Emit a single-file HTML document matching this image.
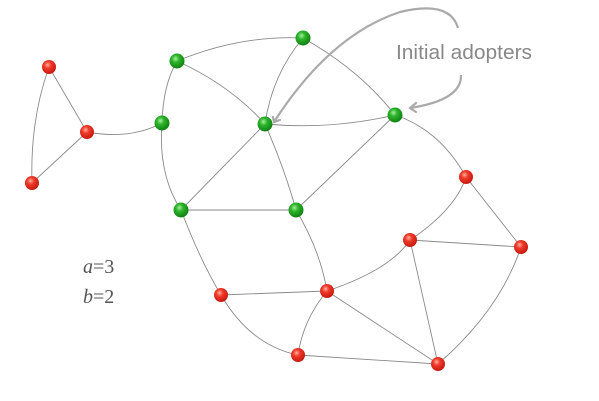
<!DOCTYPE html>
<html><head><style>
html,body{margin:0;padding:0;background:#fff;width:599px;height:401px;overflow:hidden}
</style></head><body>
<svg width="599" height="401" viewBox="0 0 599 401" xmlns="http://www.w3.org/2000/svg">
<defs>
<radialGradient id="r" cx="0.4" cy="0.35" r="0.7">
<stop offset="0" stop-color="#ffb0a0"/><stop offset="0.35" stop-color="#f03a2a"/><stop offset="1" stop-color="#c0150c"/></radialGradient>
<radialGradient id="g" cx="0.4" cy="0.35" r="0.7">
<stop offset="0" stop-color="#a8f0a0"/><stop offset="0.35" stop-color="#2db42a"/><stop offset="1" stop-color="#0c7a10"/></radialGradient>
</defs>
<g fill="none" stroke="#8a8a8a" stroke-width="0.9">
<path d="M49,67 Q30,120 32,183"/>
<path d="M49,67 L87,132"/>
<path d="M87,132 L32,183"/>
<path d="M87,132 Q130,140 162,123"/>
<path d="M162,123 Q163,85 177,61"/>
<path d="M177,61 Q240,35 303,38"/>
<path d="M177,61 Q230,85 265,124"/>
<path d="M303,38 Q272,75 265,124"/>
<path d="M303,38 Q360,70 395,115"/>
<path d="M265,124 Q330,130 395,115"/>
<path d="M162,123 Q158,175 181,210"/>
<path d="M265,124 L181,210"/>
<path d="M265,124 Q285,170 296,210"/>
<path d="M395,115 L296,210"/>
<path d="M181,210 L296,210"/>
<path d="M181,210 Q200,260 221,295"/>
<path d="M296,210 Q320,250 327,291"/>
<path d="M221,295 L327,291"/>
<path d="M221,295 Q250,345 298,355"/>
<path d="M327,291 Q303,320 298,355"/>
<path d="M327,291 Q390,270 410,240"/>
<path d="M327,291 L438,364"/>
<path d="M298,355 L438,364"/>
<path d="M410,240 L438,364"/>
<path d="M410,240 L521,247"/>
<path d="M438,364 Q500,310 521,247"/>
<path d="M410,240 Q455,210 466,177"/>
<path d="M466,177 L521,247"/>
<path d="M395,115 Q440,130 466,177"/>
</g>
<g fill="none" stroke="#aaaaaa" stroke-width="2.2">
<path d="M458,28 Q450,0 400,12 Q330,35 274,122"/>
<path d="M273,117 L274,122 L280,120" stroke-linecap="round"/>
<path d="M461,75 Q462,100 410,108"/>
<path d="M416,103 L410,108 L416,112" stroke-linecap="round"/>
</g>
<text x="396" y="59" font-family="Liberation Sans, sans-serif" font-size="20.5" fill="#888" textLength="136" lengthAdjust="spacingAndGlyphs">Initial adopters</text>
<text x="83" y="273" font-family="Liberation Serif, serif" font-size="20" fill="#555"><tspan font-style="italic">a</tspan>=3</text>
<text x="83" y="303" font-family="Liberation Serif, serif" font-size="20" fill="#555"><tspan font-style="italic">b</tspan>=2</text>
<g fill="url(#r)">
<circle cx="49" cy="67" r="7"/><circle cx="87" cy="132" r="7"/><circle cx="32" cy="183" r="7"/>
<circle cx="221" cy="295" r="7"/><circle cx="327" cy="291" r="7"/><circle cx="298" cy="355" r="7"/>
<circle cx="438" cy="364" r="7"/><circle cx="410" cy="240" r="7"/><circle cx="521" cy="247" r="7"/>
<circle cx="466" cy="177" r="7"/>
</g>
<g fill="url(#g)">
<circle cx="177" cy="61" r="7.5"/><circle cx="303" cy="38" r="7.5"/><circle cx="162" cy="123" r="7.5"/>
<circle cx="265" cy="124" r="7.5"/><circle cx="395" cy="115" r="7.5"/><circle cx="181" cy="210" r="7.5"/>
<circle cx="296" cy="210" r="7.5"/>
</g>
</svg>
</body></html>
